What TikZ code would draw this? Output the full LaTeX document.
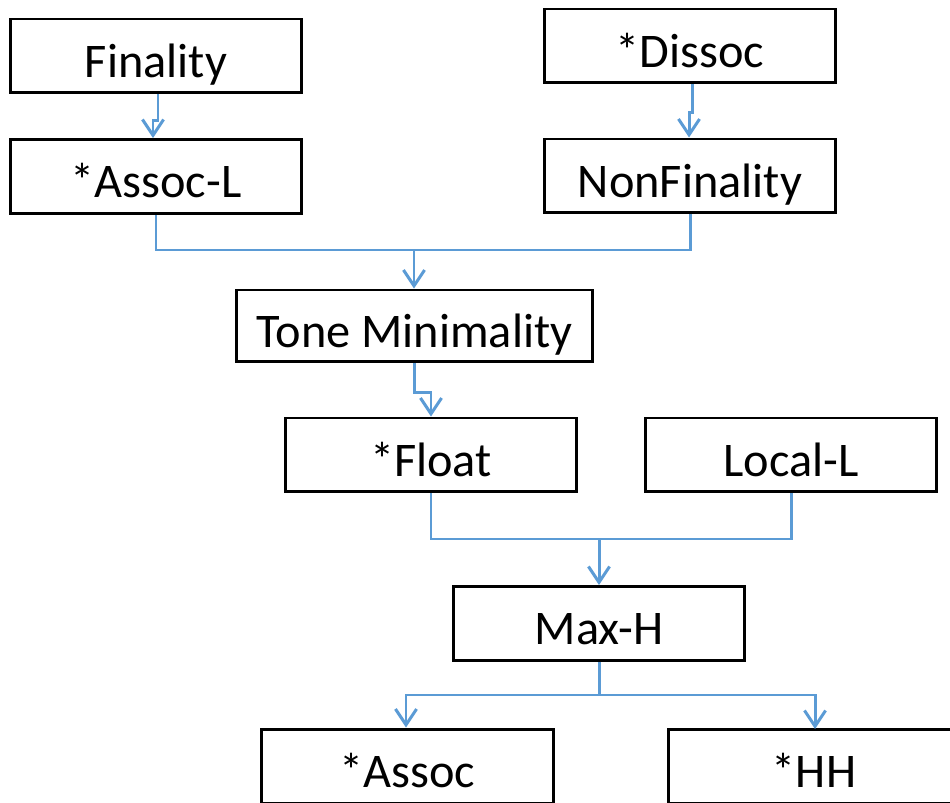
\documentclass[tikz,border=0pt]{standalone}
\usepackage{fontspec}
\setmainfont{Carlito}
\usetikzlibrary{arrows.meta,positioning,calc}

\definecolor{linkblue}{RGB}{91,155,213}

\begin{document}
\begin{tikzpicture}[x=0.02cm, y=-0.02cm,
    con/.style={draw, line width=1.7pt, minimum width=5.84cm, minimum height=1.48cm,
        inner sep=0pt, text height=0.92cm, text depth=0.06cm,
        font=\fontsize{27.5}{32}\selectfont},
    link/.style={linkblue, line width=1.7pt},
    linkarr/.style={link, -{Straight Barb[length=9pt,width=12pt,line width=1.7pt]}}]
        \useasboundingbox (0,0) rectangle (950,803);
        % Boxes
        \node [con] (fin) at (156,56) {Finality};
        \node [con] (dis) at (690,46) {*Dissoc};
        \node [con] (assocl) at (156,176.5) {*Assoc-L};
        \node [con] (nonfin) at (690,176) {NonFinality};
        \node [con, minimum width=7.14cm, minimum height=1.44cm] (tonemin) at (414.5,326) {Tone Minimality};
        \node [con] (float) at (431,455) {*Float};
        \node [con] (locall) at (791,455) {Local-L};
        \node [con] (maxh) at (599,623.5) {Max-H};
        \node [con] (assoc) at (407.5,766) {*Assoc};
        \node [con] (hh) at (814,766) {*HH};

        % Joins
        \coordinate (j1) at (414,250);
        \coordinate (j2) at (599,539);
        \coordinate (j3) at (599,695);

        % Connectors
        \draw [linkarr] ([xshift=0.04cm]fin.south) -- ++(0,26) -| ([xshift=-0.06cm]assocl.north);
        \draw [linkarr] ([xshift=0.04cm]dis.south) -- ++(0,28) -| ([xshift=-0.02cm]nonfin.north);
        \draw [link] (assocl.south) |- (j1) -| (nonfin.south);
        \draw [linkarr] (j1) -- (j1 |- tonemin.north);
        \draw [linkarr] (tonemin.south) -- ++(0,29) -| (float.north);
        \draw [link] (float.south) |- (j2) -| (locall.south);
        \draw [linkarr] (j2) -- (maxh.north);
        \draw [link] (maxh.south) -- (j3);
        \draw [linkarr] (j3) -| ([xshift=-0.03cm]assoc.north);
        \draw [linkarr] (j3) -| (815,729);
\end{tikzpicture}
\end{document}
